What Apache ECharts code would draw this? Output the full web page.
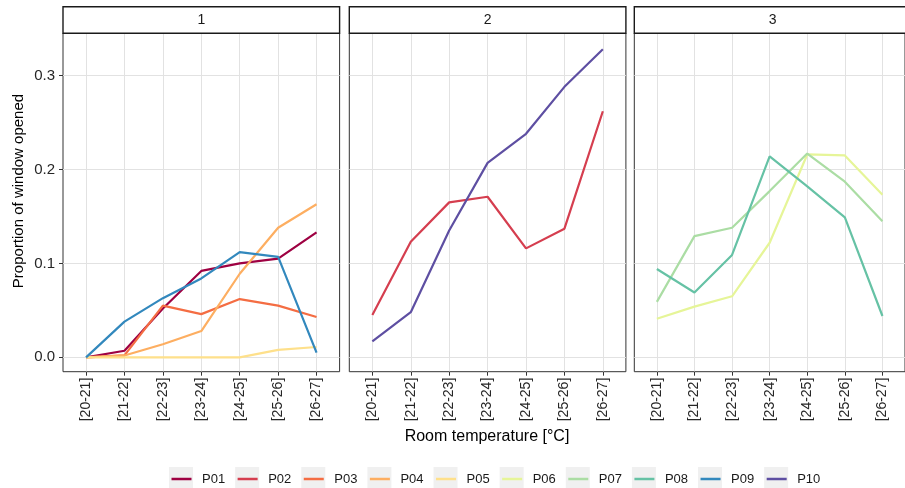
<!DOCTYPE html>
<html>
<head>
<meta charset="utf-8">
<script src="https://cdn.jsdelivr.net/npm/echarts@6/dist/echarts.min.js"></script>
<style>html,body{margin:0;padding:0;background:#fff;}#c{width:905px;height:488px;}</style>
</head>
<body>
<div id="c"></div>
<script>
const categories = ['[20-21]', '[21-22]', '[22-23]', '[23-24]', '[24-25]', '[25-26]', '[26-27]'];
const P01 = [0, 0.007, 0.052, 0.092, 0.100, 0.105, 0.133];
const P02 = [0.045, 0.123, 0.165, 0.171, 0.116, 0.137, 0.262];
const P03 = [0, 0.002, 0.055, 0.046, 0.062, 0.055, 0.043];
const P04 = [0, 0.002, 0.014, 0.028, 0.089, 0.138, 0.163];
const P05 = [0, 0, 0, 0, 0, 0.008, 0.011];
const P06 = [0.041, 0.054, 0.065, 0.122, 0.216, 0.215, 0.173];
const P07 = [0.059, 0.129, 0.138, 0.177, 0.217, 0.187, 0.145];
const P08 = [0.094, 0.069, 0.109, 0.214, 0.182, 0.149, 0.044];
const P09 = [0, 0.038, 0.063, 0.084, 0.112, 0.107, 0.005];
const P10 = [0.017, 0.048, 0.135, 0.207, 0.238, 0.288, 0.328];
const seriesNames = ['P01', 'P02', 'P03', 'P04', 'P05', 'P06', 'P07', 'P08', 'P09', 'P10'];
const seriesValues = [P01, P02, P03, P04, P05, P06, P07, P08, P09, P10];
const seriesPanel = [0, 1, 0, 0, 0, 2, 2, 2, 0, 1];
const panelLabels = ['1', '2', '3'];
const yTicks = [0, 0.1, 0.2, 0.3];
const colors = ['#9E0142', '#D53E4F', '#F46D43', '#FDAE61', '#FEE08B', '#E6F598', '#ABDDA4', '#66C2A5', '#3288BD', '#5E4FA2'];

const FONT = '"Liberation Sans", Arial, sans-serif';
const panelLeft = [63, 349.3, 634.3];
const panelW = 276.6;
const panelTop = 33.3, panelH = 338.4;
const stripTop = 6.7;
const xIdx = categories.map((c, i) => i);

const grids = panelLeft.map(l => ({
  left: l, top: panelTop, width: panelW, height: panelH,
  show: true, borderColor: '#333', borderWidth: 1, backgroundColor: '#fff', containLabel: false
}));

const xAxes = panelLeft.map((l, gi) => ({
  type: 'value', gridIndex: gi, min: -0.6, max: categories.length - 0.4, position: 'bottom',
  axisLine: { show: false, onZero: false },
  axisTick: { show: true, length: 4, lineStyle: { color: '#333', width: 1 }, customValues: xIdx },
  axisLabel: { show: true, rotate: 90, margin: 6, fontSize: 14, color: '#262626', fontFamily: FONT,
    customValues: xIdx, formatter: v => categories[Math.round(v)] },
  splitLine: { show: true, lineStyle: { color: '#e2e2e2', width: 1 } }
}));

const yAxes = panelLeft.map((l, gi) => ({
  type: 'value', gridIndex: gi, min: -0.0153, max: 0.345, position: 'left',
  axisLine: { show: false, onZero: false },
  axisTick: { show: gi === 0, length: 4, lineStyle: { color: '#333', width: 1 }, customValues: yTicks },
  axisLabel: { show: gi === 0, margin: 8, fontSize: 15, color: '#262626', fontFamily: FONT,
    customValues: yTicks, formatter: v => v.toFixed(1) },
  splitLine: { show: true, lineStyle: { color: '#e2e2e2', width: 1 } }
}));

const series = seriesNames.map((name, k) => ({
  name, type: 'line', xAxisIndex: seriesPanel[k], yAxisIndex: seriesPanel[k],
  data: seriesValues[k].map((v, i) => [xIdx[i], v]),
  showSymbol: false, symbol: 'none', color: colors[k],
  lineStyle: { width: 2.2, color: colors[k] }, animation: false, z: 2 + k
}));

const graphics = [];
panelLeft.forEach((l, gi) => {
  graphics.push({ type: 'rect', silent: true, shape: { x: l, y: stripTop, width: panelW, height: panelTop - stripTop },
    style: { fill: '#ffffff', stroke: '#1a1a1a', lineWidth: 1.4, opacity: 1 }, z: 10 });
  graphics.push({ type: 'text', silent: true, x: l + panelW / 2, y: (stripTop + panelTop) / 2 + 0.5,
    style: { text: panelLabels[gi], fontSize: 14, fontFamily: FONT, fill: '#1a1a1a', align: 'center', verticalAlign: 'middle' }, z: 11 });
});
graphics.push({ type: 'text', silent: true, x: 487, y: 437,
  style: { text: 'Room temperature [°C]', fontSize: 16, fontFamily: FONT, fill: '#000', align: 'center', verticalAlign: 'middle' } });
graphics.push({ type: 'text', silent: true, x: 19, y: 191, rotation: Math.PI / 2,
  style: { text: 'Proportion of window opened', fontSize: 15, fontFamily: FONT, fill: '#000', align: 'center', verticalAlign: 'middle' } });

const bgIcon = 'path://M0,0 H24 V24 H0 Z M27.99,23.99 h0.01 v0.01 h-0.01 Z';
const lineIcon = 'path://M0,0 h0.01 v0.01 h-0.01 Z M2.5,10.8 H22.5 V13.2 H2.5 Z M27.99,23.99 h0.01 v0.01 h-0.01 Z';

const legendCommon = {
  left: 169, top: 467, orient: 'horizontal', itemWidth: 28, itemHeight: 24, itemGap: 10,
  selectedMode: false, padding: 0
};

const option = {
  animation: false,
  backgroundColor: '#fff',
  grid: grids, xAxis: xAxes, yAxis: yAxes, series,
  legend: [
    Object.assign({}, legendCommon, {
      data: seriesNames.map(n => ({ name: n, icon: bgIcon, itemStyle: { color: '#f0f0f0' } })),
      textStyle: { fontSize: 13, fontFamily: FONT, color: 'rgba(0,0,0,0)' }, z: 3
    }),
    Object.assign({}, legendCommon, {
      data: seriesNames.map(n => ({ name: n, icon: lineIcon })),
      textStyle: { fontSize: 13, fontFamily: FONT, color: '#1a1a1a' }, z: 4
    })
  ],
  graphic: graphics
};
const chart = echarts.init(document.getElementById('c'), null, { renderer: 'canvas' });
chart.setOption(option);
</script>
</body>
</html>
